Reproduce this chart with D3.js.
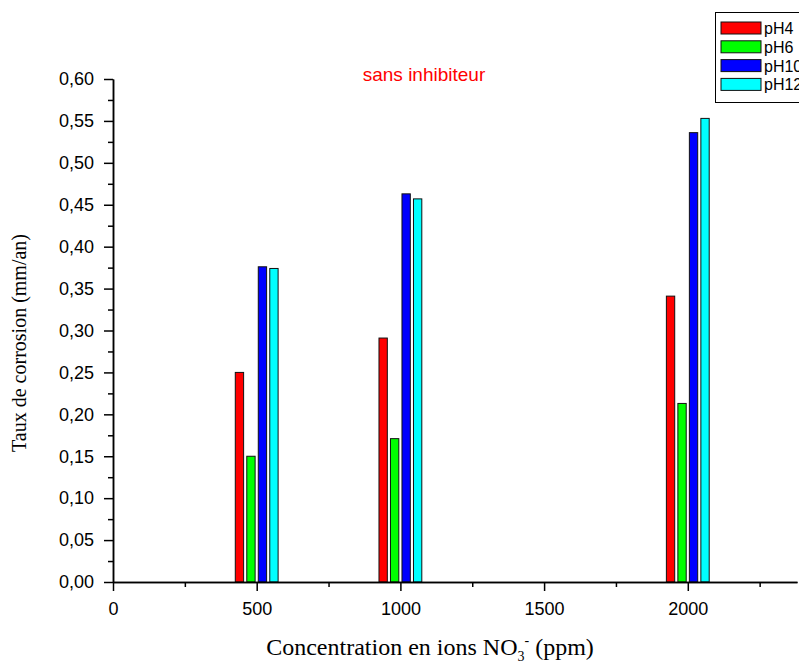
<!DOCTYPE html>
<html>
<head>
<meta charset="utf-8">
<script src="https://cdn.jsdelivr.net/npm/d3@7"></script>
<style>
  body { margin: 0; background: #fff; }
  svg { display: block; }
  .tick text { font-family: "Liberation Sans", Arial, sans-serif; font-size: 18px; fill: #000; }
</style>
</head>
<body>
<div id="chart"></div>
<script>
// concentrations (ppm) and corrosion rates (mm/an) per pH
let concentrations = [500, 1000, 2000];
let series = ["pH4", "pH6", "pH10", "pH12"];
let colors = ["#ff0000", "#00ff00", "#0000ff", "#00ffff"];
let pH4 = [0.250, 0.291, 0.341];
let pH6 = [0.150, 0.171, 0.213];
let pH10 = [0.376, 0.463, 0.536];
let pH12 = [0.374, 0.457, 0.553];
let xTicks = [0, 500, 1000, 1500, 2000];
let yTicks = [0, 0.05, 0.1, 0.15, 0.2, 0.25, 0.3, 0.35, 0.4, 0.45, 0.5, 0.55, 0.6];

let values = [pH4, pH6, pH10, pH12];
let offsets = [-60, -20, 20, 60];
let barW = 29;

let width = 799, height = 664;

let svg = d3.select("#chart").append("svg")
  .attr("width", width)
  .attr("height", height);

let x = d3.scaleLinear().domain([0, 2380]).range([113, 797]);
let y = d3.scaleLinear().domain([0, 0.6]).range([582, 79]);

let comma = v => d3.format(".2f")(v).replace(".", ",");

// bars
values.forEach(function (vals, i) {
  svg.append("g").selectAll("rect")
    .data(vals)
    .join("rect")
    .attr("x", (d, j) => x(concentrations[j] + offsets[i] - barW / 2))
    .attr("y", d => y(d))
    .attr("width", x(barW) - x(0))
    .attr("height", d => y(0) - y(d))
    .attr("fill", colors[i])
    .attr("stroke", "#111")
    .attr("stroke-width", 1);
});

// x axis
let xMinor = d3.range(250, 2380, 500);
svg.append("g")
  .attr("transform", "translate(0," + y(0) + ")")
  .call(d3.axisBottom(x).tickValues(xMinor).tickSize(5).tickSizeOuter(0).tickFormat(""))
  .call(g => g.selectAll("line,path").attr("stroke-width", 1.5));
svg.append("g")
  .attr("transform", "translate(0," + y(0) + ")")
  .call(d3.axisBottom(x).tickValues(xTicks).tickSize(9).tickSizeOuter(0).tickPadding(11).tickFormat(d3.format("d")))
  .call(g => g.selectAll("line,path").attr("stroke-width", 1.5));

// y axis
let yMinor = d3.range(0.025, 0.6, 0.05);
svg.append("g")
  .attr("transform", "translate(" + x(0) + ",0)")
  .call(d3.axisLeft(y).tickValues(yMinor).tickSize(5).tickSizeOuter(0).tickFormat(""))
  .call(g => g.selectAll("line,path").attr("stroke-width", 1.5));
svg.append("g")
  .attr("transform", "translate(" + x(0) + ",0)")
  .call(d3.axisLeft(y).tickValues(yTicks).tickSize(9).tickSizeOuter(0).tickPadding(10).tickFormat(comma))
  .call(g => g.selectAll("line,path").attr("stroke-width", 1.5));

// title
svg.append("text")
  .attr("x", 424)
  .attr("y", 81)
  .attr("text-anchor", "middle")
  .attr("font-family", "Liberation Sans, Arial, sans-serif")
  .attr("font-size", 19)
  .attr("fill", "#ff0000")
  .text("sans inhibiteur");

// axis labels
svg.append("text")
  .attr("transform", "translate(26,343) rotate(-90)")
  .attr("text-anchor", "middle")
  .attr("font-family", "Liberation Serif, Times New Roman, serif")
  .attr("font-size", 20)
  .text("Taux de corrosion (mm/an)");

let xl = svg.append("text")
  .attr("x", 430)
  .attr("y", 655)
  .attr("text-anchor", "middle")
  .attr("font-family", "Liberation Serif, Times New Roman, serif")
  .attr("font-size", 24);
xl.append("tspan").text("Concentration en ions NO");
xl.append("tspan").attr("font-size", 14).attr("dy", 6).text("3");
xl.append("tspan").attr("font-size", 14).attr("dy", -16).text("-");
xl.append("tspan").attr("dy", 10).text(" (ppm)");

// legend
let legend = svg.append("g");
legend.append("rect")
  .attr("x", 715.5)
  .attr("y", 12.5)
  .attr("width", 120)
  .attr("height", 90)
  .attr("fill", "#fff")
  .attr("stroke", "#000")
  .attr("stroke-width", 1);
series.forEach(function (s, i) {
  let yy = 22 + i * 18.8;
  legend.append("rect")
    .attr("x", 721)
    .attr("y", yy)
    .attr("width", 40)
    .attr("height", 12)
    .attr("fill", colors[i])
    .attr("stroke", "#111")
    .attr("stroke-width", 1);
  legend.append("text")
    .attr("x", 764)
    .attr("y", yy + 12)
    .attr("font-family", "Liberation Sans, Arial, sans-serif")
    .attr("font-size", 16)
    .text(s);
});
</script>
</body>
</html>
